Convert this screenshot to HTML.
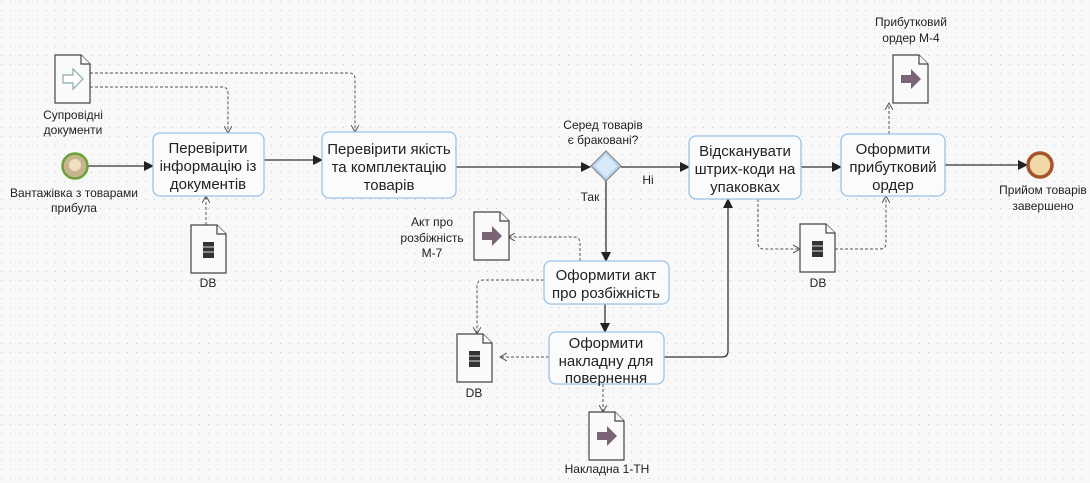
<!DOCTYPE html>
<html><head><meta charset="utf-8"><style>
body{margin:0;width:1090px;height:483px;overflow:hidden;background:#f8f8f8;}
svg{display:block}
text{font-family:"Liberation Sans",sans-serif;fill:#222;text-anchor:middle}
.t{font-size:15px}.s{font-size:12px}
.task{fill:#f9fbfd;stroke:#9cc2e6;stroke-width:1.3}
.doc{fill:#fafafa;stroke:#444;stroke-width:1.2}
.fl{stroke:#333;stroke-width:1.3;fill:none}
.dl{stroke:#555;stroke-width:1;fill:none;stroke-dasharray:3,2}
</style></head><body>
<svg width="1090" height="483" xmlns="http://www.w3.org/2000/svg">
<defs>
<pattern id="g" width="9" height="9" patternUnits="userSpaceOnUse"><rect x="1" y="1" width="1" height="1" fill="#b8cbe0"/></pattern>
<marker id="a" markerWidth="10" markerHeight="10" refX="9" refY="5" orient="auto" markerUnits="userSpaceOnUse"><path d="M0,0 L10,5 L0,10z" fill="#222"/></marker>
<marker id="o" markerWidth="8" markerHeight="8" refX="7" refY="4" orient="auto" markerUnits="userSpaceOnUse"><path d="M0,0 L7,4 L0,8" fill="none" stroke="#555"/></marker>
<g id="db"><path d="M0,0 h26 l9,9 v39 h-35z" class="doc"/><path d="M26,0 v9 h9" class="doc"/><rect x="12" y="17" width="11" height="16" fill="#333"/><path d="M12,22h11M12,27h11" stroke="#ddd"/></g>
<g id="dout"><path d="M0,0 h26 l9,9 v39 h-35z" class="doc"/><path d="M26,0 v9 h9" class="doc"/><path d="M8,20 h10 v-6 l10,10 l-10,10 v-6 h-10z" fill="#7a6478"/></g>
</defs>
<rect width="1090" height="483" fill="url(#g)"/>

<!-- flows -->
<path d="M88,166 H153" class="fl" marker-end="url(#a)"/>
<path d="M264,160 H322" class="fl" stroke="#5a3a4a" marker-end="url(#a)"/>
<path d="M456,167 H590" class="fl" marker-end="url(#a)"/>
<path d="M621,167 H689" class="fl" marker-end="url(#a)"/>
<path d="M606,181 V261" class="fl" marker-end="url(#a)"/>
<path d="M605,304 V332" class="fl" marker-end="url(#a)"/>
<path d="M664,357 H722 q6,0 6,-6 V199" class="fl" marker-end="url(#a)"/>
<path d="M801,167 H841" class="fl" marker-end="url(#a)"/>
<path d="M945,165 H1027" class="fl" marker-end="url(#a)"/>

<!-- data associations -->
<path d="M90,73 H349 q6,0 6,6 V132" class="dl" marker-end="url(#o)"/>
<path d="M90,87 H222 q6,0 6,6 V133" class="dl" marker-end="url(#o)"/>
<path d="M206,225 V196" class="dl" marker-end="url(#o)"/>
<path d="M758,199 V243 q0,6 6,6 H800" class="dl" marker-end="url(#o)"/>
<path d="M835,249 H880 q6,0 6,-6 V196" class="dl" marker-end="url(#o)"/>
<path d="M889,134 V103" class="dl" marker-end="url(#o)"/>
<path d="M580,261 V243 q0,-6 -6,-6 H508" class="dl" marker-end="url(#o)"/>
<path d="M544,280 H483 q-6,0 -6,6 V334" class="dl" marker-end="url(#o)"/>
<path d="M549,357 H500" class="dl" marker-end="url(#o)"/>
<path d="M603,384 V412" class="dl" marker-end="url(#o)"/>

<!-- input doc -->
<path d="M55,55 h26 l9,9 v39 h-35z" class="doc"/><path d="M81,55 v9 h9" class="doc"/>
<path d="M63,75 h10 v-6 l10,10 l-10,10 v-6 h-10z" fill="#fff" stroke="#8aa" stroke-width="1.2"/>
<text class="s" x="73" y="119">Супровідні</text><text class="s" x="73" y="134">документи</text>

<!-- start -->
<circle cx="75" cy="166" r="12.5" fill="#c8b58e" stroke="#6aa23a" stroke-width="2.5"/>
<circle cx="75" cy="165" r="6" fill="#eee0c0"/>
<text class="s" x="74" y="197">Вантажівка з товарами</text><text class="s" x="74" y="212">прибула</text>

<!-- tasks -->
<rect x="153" y="133" width="111" height="63" rx="7" class="task"/>
<text class="t" x="208" y="153">Перевірити</text><text class="t" x="208" y="171">інформацію із</text><text class="t" x="208" y="189">документів</text>
<rect x="322" y="132" width="134" height="66" rx="7" class="task"/>
<text class="t" x="389" y="154">Перевірити якість</text><text class="t" x="389" y="172">та комплектацію</text><text class="t" x="389" y="190">товарів</text>
<rect x="689" y="136" width="112" height="63" rx="7" class="task"/>
<text class="t" x="745" y="156">Відсканувати</text><text class="t" x="745" y="174">штрих-коди на</text><text class="t" x="745" y="192">упаковках</text>
<rect x="841" y="134" width="104" height="62" rx="7" class="task"/>
<text class="t" x="893" y="154">Оформити</text><text class="t" x="893" y="172">прибутковий</text><text class="t" x="893" y="190">ордер</text>
<rect x="544" y="261" width="125" height="43" rx="7" class="task"/>
<text class="t" x="606" y="280">Оформити акт</text><text class="t" x="606" y="298">про розбіжність</text>
<rect x="549" y="332" width="115" height="52" rx="7" class="task"/>
<text class="t" x="606" y="348">Оформити</text><text class="t" x="606" y="366">накладну для</text><text class="t" x="606" y="383">повернення</text>

<!-- gateway -->
<path d="M606,151 L621,166 L606,181 L591,166z" fill="#b9d6ee" stroke="#888" stroke-width="1.2"/>
<path d="M606,155 L617,166 L606,177 L595,166z" fill="#d8e9f7"/>
<text class="s" x="603" y="129">Серед товарів</text><text class="s" x="603" y="144">є браковані?</text>
<text class="s" x="648" y="184">Ні</text><text class="s" x="590" y="201">Так</text>

<!-- end -->
<circle cx="1040" cy="165" r="12" fill="#efd7a8" stroke="#a5552a" stroke-width="3.5"/>
<text class="s" x="1043" y="194">Прийом товарів</text><text class="s" x="1043" y="210">завершено</text>

<!-- docs -->
<use href="#db" x="191" y="225"/><text class="s" x="208" y="287">DB</text>
<use href="#db" x="800" y="224"/><text class="s" x="818" y="287">DB</text>
<use href="#db" x="457" y="334"/><text class="s" x="474" y="397">DB</text>
<use href="#dout" x="893" y="55"/><text class="s" x="911" y="26">Прибутковий</text><text class="s" x="911" y="42">ордер М-4</text>
<use href="#dout" x="474" y="212"/><text class="s" x="432" y="226">Акт про</text><text class="s" x="432" y="242">розбіжність</text><text class="s" x="432" y="257">М-7</text>
<use href="#dout" x="589" y="412"/><text class="s" x="607" y="473">Накладна 1-ТН</text>
</svg>
</body></html>
